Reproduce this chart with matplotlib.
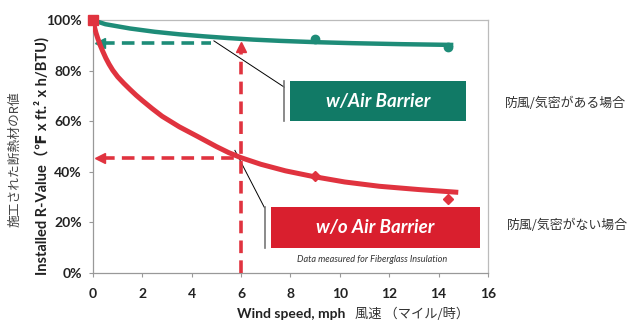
import numpy as np
import matplotlib.pyplot as plt
from matplotlib.patches import Rectangle

plt.rcParams['font.family'] = ['Lato', 'DejaVu Sans', 'Noto Sans CJK JP']
JP = ['Noto Sans CJK JP', 'DejaVu Sans']

# measured points (wind speed mph, % of nominal R-value)
with_x = [0, 9.0, 14.4]
with_y = [100, 92.5, 89.3]
without_x = [9.0, 14.4]
without_y = [38.2, 29.4]

# trend lines
with_fit_x = [0, 0.5, 1.5, 2.5, 3.5, 4.5, 5.5, 6.5, 7.6, 9.0, 10.5, 12.5, 14.6]
with_fit_y = [100, 98.4, 96.7, 95.4, 94.4, 93.6, 92.9, 92.3, 91.8, 91.3, 90.9, 90.5, 90.2]
without_fit_x = [0, 0.03, 0.07, 0.12, 0.2, 0.3, 0.4, 0.52, 0.65, 0.8, 1.0, 1.25, 1.5,
                 1.75, 2.0, 2.4, 2.8, 3.5, 4.2, 5.0, 5.5, 6.0, 6.8, 7.8, 8.9, 10.2,
                 11.6, 13.2, 14.8]
without_fit_y = [100, 98.6, 96.9, 95.0, 92.6, 89.9, 87.6, 85.0, 82.6, 80.2, 77.6, 75.0,
                 72.6, 70.3, 68.2, 65.0, 62.0, 57.8, 54.2, 50.0, 47.6, 45.6, 43.0, 40.4,
                 38.2, 36.0, 34.3, 33.0, 31.9]

speed_mark = 6
with_at_mark = 91.0
without_at_mark = 45.6

xticks = [0, 2, 4, 6, 8, 10, 12, 14, 16]
yticks = [0, 20, 40, 60, 80, 100]

teal = '#1e8c78'
red = '#e0333f'

fig = plt.figure(figsize=(6.4, 3.25), dpi=100)
ax = fig.add_axes([0.1453, 0.16, 0.617, 0.778])

ax.plot(with_fit_x, with_fit_y, color=teal, lw=3.2, solid_capstyle='butt',
        solid_joinstyle='round', zorder=4)
ax.plot(without_fit_x, without_fit_y, color=red, lw=3.6, solid_capstyle='butt',
        solid_joinstyle='round', zorder=4)
ax.plot(with_x[1:], with_y[1:], 'o', color=teal, ms=6, zorder=5)
ax.plot(without_x, without_y, 'D', color=red, ms=5, zorder=5)
ax.plot([0], [100], 's', color=red, ms=7, zorder=6, clip_on=False)

# reading lines at 6 mph
dash = (3.5, 2)
ax.plot([speed_mark, speed_mark], [0, with_at_mark - 2], color=red, lw=2.6,
        dashes=dash, zorder=3)
ax.plot([speed_mark], [with_at_mark - 1.5], '^', color=red, ms=7, zorder=3)
ax.plot([0.35, speed_mark], [without_at_mark, without_at_mark], color=red, lw=2.6,
        dashes=dash, zorder=3)
ax.plot([0.3], [without_at_mark], '<', color=red, ms=7, zorder=3)
ax.plot([0.35, 4.8], [with_at_mark, with_at_mark], color=teal, lw=2.6,
        dashes=dash, zorder=3)
ax.plot([0.3], [with_at_mark], '<', color=teal, ms=7, zorder=3)

# callout boxes
ax.plot([4.9, 7.75], [91.8, 73.5], color='black', lw=0.7, zorder=2)
ax.plot([7.75, 7.75], [60, 76], color='#777777', lw=1.2)
ax.add_patch(Rectangle((8.0, 60), 7.1, 16, facecolor='#117a66', edgecolor='none', zorder=2))
ax.text(11.55, 68, 'w/Air Barrier', color='white', fontsize=13.5, fontweight='bold',
        style='italic', ha='center', va='center', zorder=3)

ax.plot([5.75, 6.95], [48.5, 25.8], color='black', lw=0.7, zorder=2)
ax.plot([6.95, 6.95], [10, 26], color='#777777', lw=1.2)
ax.add_patch(Rectangle((7.2, 10), 8.5, 16, facecolor='#d91f2e', edgecolor='none', zorder=2))
ax.text(11.45, 18, 'w/o Air Barrier', color='white', fontsize=13.5, fontweight='bold',
        style='italic', ha='center', va='center', zorder=3)
ax.text(11.3, 5.3, 'Data measured for Fiberglass Insulation', fontsize=6.6,
        style='italic', color='#333333', ha='center', va='center')

ax.set_xlim(0, 16)
ax.set_ylim(0, 100)
ax.set_xticks(xticks)
ax.set_yticks(yticks)
ax.set_yticklabels([f'{v}%' for v in yticks])
ax.tick_params(labelsize=10, length=3, color='#999999', pad=5)
for lab in ax.get_xticklabels() + ax.get_yticklabels():
    lab.set_fontweight('bold')
    lab.set_color('#222222')
ax.tick_params(axis='x', pad=8)
for s in ax.spines.values():
    s.set_color('#bbbbbb')
    s.set_linewidth(0.9)
ax.spines['left'].set_color('#999999')
ax.spines['bottom'].set_color('#999999')

fig.text(0.54, 0.033, 'Wind speed, mph', fontsize=10, fontweight='bold',
         ha='right', va='center', color='#222222')
fig.text(0.555, 0.033, '風速 （マイル/時）', fontsize=9.5, ha='left', va='center',
         color='#333333', family=JP)
fig.text(0.066, 0.52, 'Installed R-Value（℉ x ft.² x h/BTU)', fontsize=10.5,
         fontweight='bold', rotation=90, ha='center', va='center', color='#222222')
fig.text(0.024, 0.51, '施工された断熱材のR値', fontsize=9.2, rotation=90,
         ha='center', va='center', color='#444444', family=JP)

fig.text(0.884, 0.683, '防風/気密がある場合', fontsize=9.3, ha='center', va='center',
         color='#333333', family=JP)
fig.text(0.887, 0.308, '防風/気密がない場合', fontsize=9.3, ha='center', va='center',
         color='#333333', family=JP)

fig.savefig('out.png', dpi=100)
